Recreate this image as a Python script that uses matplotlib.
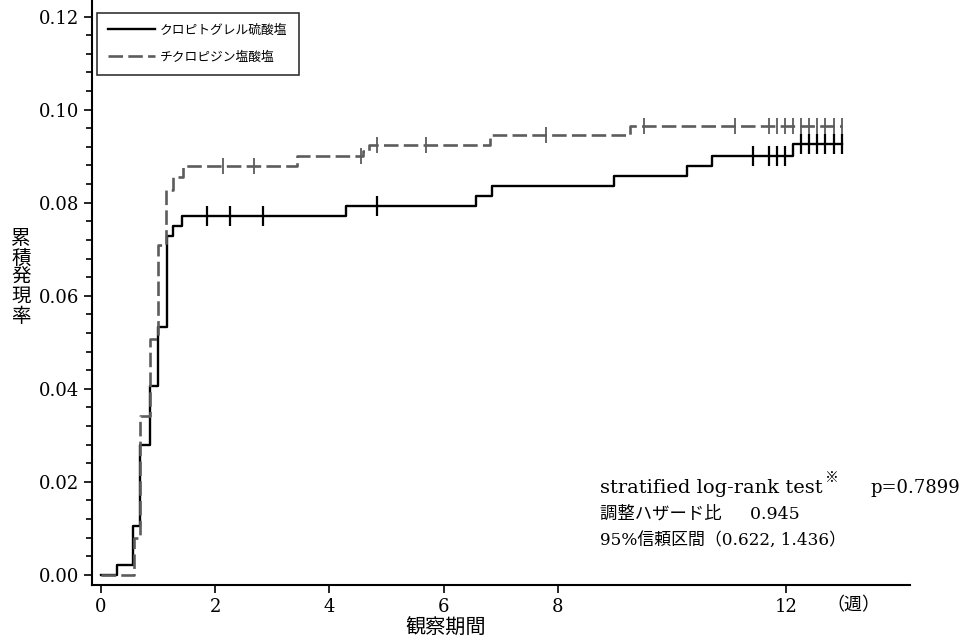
import numpy as np
import matplotlib
matplotlib.use('Agg')
import matplotlib.pyplot as plt
from matplotlib.ticker import MultipleLocator, FormatStrFormatter

plt.rcParams['font.family'] = ['DejaVu Serif', 'Noto Sans CJK JP']

# step curves (weeks, cumulative incidence)
clop_t = [0, 0.28, 0.56, 0.68, 0.86, 1.00, 1.16, 1.26, 1.42, 4.29, 6.57, 6.84, 8.99, 10.26, 10.70, 12.11, 12.97]
clop_y = [0, 0.0022, 0.0106, 0.0279, 0.0406, 0.0533, 0.0728, 0.0749, 0.0771, 0.0792, 0.0814, 0.0835,
          0.0857, 0.0879, 0.0900, 0.0927, 0.0927]
clop_cens = [1.85, 2.26, 2.83, 4.84, 11.41, 11.69, 11.83, 11.97, 12.25, 12.40, 12.54, 12.68, 12.83, 12.97]

tic_t = [0, 0.58, 0.68, 0.86, 1.00, 1.14, 1.26, 1.44, 3.43, 4.59, 4.70, 6.81, 9.26, 12.97]
tic_y = [0, 0.0080, 0.0341, 0.0508, 0.0709, 0.0827, 0.0855, 0.0879, 0.0900, 0.0911, 0.0924, 0.0945,
         0.0965, 0.0965]
tic_cens = [2.13, 2.68, 4.55, 4.83, 5.69, 7.80, 9.50, 11.10, 11.69, 11.83, 11.97, 12.11, 12.25,
            12.40, 12.54, 12.68, 12.83, 12.97]

labels = ['クロピトグレル硫酸塩', 'チクロピジン塩酸塩']
xticks = [0, 2, 4, 6, 8, 12]
grey = '#5c5c5c'


def value_at(t_list, y_list, tc):
    i = np.searchsorted(t_list, tc, side='right') - 1
    return np.array(y_list)[i]


fig = plt.figure(figsize=(9.65, 6.42), dpi=100)
ax = fig.add_axes([0.0953, 0.0888, 0.848, 0.910])

ax.step(clop_t, clop_y, where='post', color='black', lw=1.7, label=labels[0])
ax.step(tic_t, tic_y, where='post', color=grey, lw=1.9, dashes=(5.5, 2.0), label=labels[1])

ax.plot(clop_cens, value_at(clop_t, clop_y, clop_cens), ls='none', marker='|',
        ms=14, mew=1.6, color='black')
ax.plot(tic_cens, value_at(tic_t, tic_y, tic_cens), ls='none', marker='|',
        ms=12, mew=1.3, color=grey)

ax.set_xlim(-0.158, 14.17)
ax.set_ylim(-0.00216, 0.1234)
ax.set_xticks(xticks)
ax.yaxis.set_major_locator(MultipleLocator(0.02))
ax.yaxis.set_minor_locator(MultipleLocator(0.004))
ax.yaxis.set_major_formatter(FormatStrFormatter('%.2f'))
ax.tick_params(axis='both', which='major', direction='out', length=6, width=1.2, labelsize=13)
ax.tick_params(axis='y', which='minor', direction='out', length=4, width=1.2)
ax.spines['top'].set_visible(False)
ax.spines['right'].set_visible(False)
ax.spines['left'].set_linewidth(1.5)
ax.spines['bottom'].set_linewidth(1.5)

leg = ax.legend(loc='upper left', bbox_to_anchor=(0.1005, 0.9798), bbox_transform=fig.transFigure,
                fontsize=9.2, frameon=True, fancybox=False, edgecolor='black', handlelength=3.7,
                labelspacing=1.1, borderpad=0.85, handletextpad=0.4, borderaxespad=0)
leg.get_frame().set_linewidth(1.2)

# axis labels
fig.text(21 / 965, 1 - 278 / 642, '累\n積\n発\n現\n率', ha='center', va='center',
         fontsize=14, linespacing=1.08)
fig.text(446 / 965, 1 - 628 / 642, '観察期間', ha='center', va='center', fontsize=14.5)
fig.text(853 / 965, 1 - 605 / 642, '（週）', ha='center', va='center', fontsize=13)

# test result
fig.text(600 / 965, 1 - 488 / 642, 'stratified log-rank test', ha='left', va='center', fontsize=14)
fig.text(825 / 965, 1 - 478 / 642, '※', ha='left', va='center', fontsize=10)
fig.text(960 / 965, 1 - 488 / 642, 'p=0.7899', ha='right', va='center', fontsize=13)
fig.text(600 / 965, 1 - 514 / 642, '調整ハザード比　  0.945', ha='left', va='center', fontsize=12.5)
fig.text(600 / 965, 1 - 540 / 642, '95%信頼区間（0.622, 1.436）', ha='left', va='center', fontsize=12.2)

fig.savefig('out.png', dpi=100)
